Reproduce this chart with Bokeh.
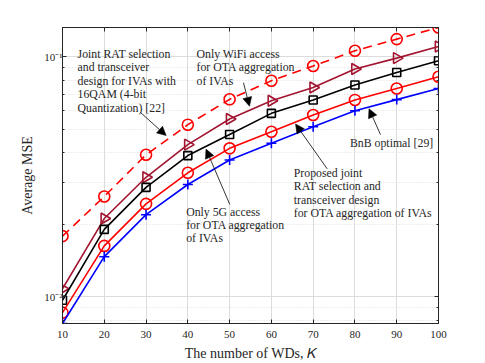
import math
from bokeh.plotting import figure
from bokeh.models import Range1d, FixedTicker, LinearAxis, LogAxis, Label, Arrow, NormalHead
from bokeh.embed import file_html
from bokeh.resources import INLINE

# ---------------- data ----------------
K = [10, 20, 30, 40, 50, 60, 70, 80, 90, 100]
mse_16qam = [0.0179, 0.0262, 0.0391, 0.0522, 0.0666, 0.0796, 0.0917, 0.1061, 0.1187, 0.1327]
mse_wifi = [0.0108, 0.0212, 0.0315, 0.0431, 0.0551, 0.0657, 0.0746, 0.0891, 0.0989, 0.1106]
mse_5g = [0.00967, 0.0191, 0.0286, 0.0388, 0.0475, 0.0582, 0.0662, 0.0764, 0.0862, 0.0964]
mse_prop = [0.00859, 0.0163, 0.0244, 0.0329, 0.0416, 0.0488, 0.0573, 0.0662, 0.0739, 0.0827]
mse_bnb = [0.00774, 0.0147, 0.0220, 0.0294, 0.0372, 0.0437, 0.0512, 0.0597, 0.0664, 0.0739]

x_ticks = [10, 20, 30, 40, 50, 60, 70, 80, 90, 100]
y_major = [0.01, 0.1]
y_minor = [0.008, 0.009, 0.02, 0.03, 0.04, 0.05, 0.06, 0.07, 0.08, 0.09]
y_labels = {0.01: "10\u207b\u00b2", 0.1: "10\u207b\u00b9"}

ann_texts = [
    ["Joint RAT selection", "and transceiver", "design for IVAs with", "16QAM (4-bit", "Quantization) [22]"],
    ["Only WiFi access", "for OTA aggregation", "of IVAs"],
    ["Only 5G access", "for OTA aggregation", "of IVAs"],
    ["Proposed joint", "RAT selection and", "transceiver design", "for OTA aggregation of IVAs"],
    ["BnB optimal [29]"],
]
ann_pos = [(13.6, 0.1028), (42.07, 0.1028), (39.6, 0.02268), (65.36, 0.03288), (78.81, 0.04395)]
arrows = [
    (28.67, 0.0587, 34.82, 0.0470),
    (53.32, 0.0781, 54.76, 0.0623),
    (50.04, 0.02427, 44.35, 0.04129),
    (73.36, 0.03416, 65.77, 0.05257),
    (86.11, 0.04745, 83.36, 0.0609),
]

# ---------------- styles ----------------
FONT = "Liberation Serif"
AX = "#262626"
GRID = "#dcdcdc"
RED = "#ff0000"
BROWN = "#a2142f"
BLUE = "#0000ff"

p = figure(width=485, height=363, x_range=Range1d(10, 100), y_range=Range1d(0.00774, 0.1327),
           y_axis_type="log", output_backend="svg", toolbar_location=None,
           min_border_left=62, min_border_right=47, min_border_top=27, min_border_bottom=40)
p.background_fill_color = "white"
p.border_fill_color = "white"
p.outline_line_color = AX

xt = FixedTicker(ticks=x_ticks)
yt = FixedTicker(ticks=y_major, minor_ticks=y_minor)
p.xaxis.ticker = xt
p.yaxis.ticker = yt
p.yaxis.major_label_overrides = y_labels

for ax in (p.xaxis[0], p.yaxis[0]):
    ax.axis_line_color = AX
    ax.major_tick_line_color = AX
    ax.major_tick_in = 4
    ax.major_tick_out = 0
    ax.minor_tick_in = 2
    ax.minor_tick_out = 0
    ax.minor_tick_line_color = AX
    ax.major_label_text_font = FONT
    ax.major_label_text_font_size = "11px"
    ax.major_label_text_color = AX
    ax.axis_label_text_font = FONT
    ax.axis_label_text_font_size = "14px"
    ax.axis_label_text_font_style = "normal"
    ax.axis_label_text_color = AX
p.xaxis.minor_tick_line_color = None
p.xaxis.major_label_standoff = 7
p.xaxis.axis_label_standoff = 5
p.yaxis.major_label_standoff = 0
p.yaxis.axis_label_standoff = 6
p.xaxis.axis_label = "The number of WDs, \U0001D43E"
p.yaxis.axis_label = "Average MSE"

top = LinearAxis(ticker=FixedTicker(ticks=x_ticks), major_label_text_color=None, major_label_standoff=0,
                 major_tick_in=4, major_tick_out=0, minor_tick_line_color=None,
                 axis_line_color=AX, major_tick_line_color=AX)
right = LogAxis(ticker=FixedTicker(ticks=y_major, minor_ticks=y_minor), major_label_text_color=None,
                major_label_standoff=0,
                major_tick_in=4, major_tick_out=0, minor_tick_in=2, minor_tick_out=0,
                axis_line_color=AX, major_tick_line_color=AX, minor_tick_line_color=AX)
p.add_layout(top, "above")
p.add_layout(right, "right")

p.xgrid.ticker = xt
p.ygrid.ticker = yt
p.xgrid.grid_line_color = GRID
p.ygrid.grid_line_color = GRID
p.ygrid.minor_grid_line_color = GRID
p.ygrid.minor_grid_line_dash = "1 2"

# ---------------- series ----------------
LW = 1.6
p.line(K, mse_16qam, line_color=RED, line_width=LW, line_dash="9 6")
p.scatter(K, mse_16qam, marker="circle", size=11, fill_color=None, line_color=RED, line_width=LW)

p.line(K, mse_wifi, line_color=BROWN, line_width=LW)
p.scatter(K, mse_wifi, marker="triangle", angle=-math.pi / 2, size=11, fill_color=None,
          line_color=BROWN, line_width=LW)

p.line(K, mse_5g, line_color="black", line_width=LW)
p.scatter(K, mse_5g, marker="square", size=8, fill_color=None, line_color="black", line_width=LW)

p.line(K, mse_prop, line_color=RED, line_width=LW)
p.scatter(K, mse_prop, marker="circle", size=11, fill_color=None, line_color=RED, line_width=LW)

p.line(K, mse_bnb, line_color=BLUE, line_width=LW)
p.scatter(K, mse_bnb, marker="cross", size=10, line_color=BLUE, line_width=LW)

# ---------------- annotations ----------------
for lines, (ax_, ay_) in zip(ann_texts, ann_pos):
    for i, t in enumerate(lines):
        p.add_layout(Label(x=ax_, y=ay_, y_offset=-13.4 * i, text=t, text_font=FONT,
                           text_font_size="11.8px", text_color="#262626", text_baseline="middle",
                           text_align="left"))

for (x0, y0, x1, y1) in arrows:
    p.add_layout(Arrow(x_start=x0, y_start=y0, x_end=x1, y_end=y1, line_width=0.8, line_color="black",
                       end=NormalHead(size=9, fill_color="black", line_color="black", line_width=0.5)))

open("out.html", "w").write(file_html(p, INLINE))
